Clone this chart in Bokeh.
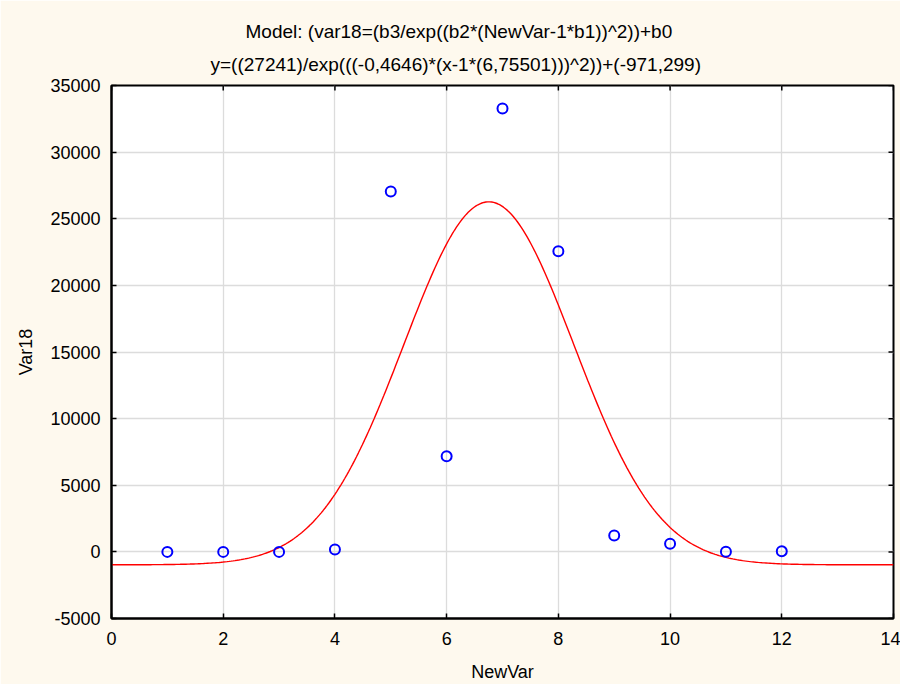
import numpy as np
from bokeh.plotting import figure
from bokeh.models import Title, Range1d, FixedTicker
from bokeh.embed import file_html
from bokeh.resources import INLINE

# Observed data
new_var = [1, 2, 3, 4, 5, 6, 7, 8, 9, 10, 11, 12]
var18 = [0, 0, 0, 180, 27050, 7170, 33280, 22560, 1230, 610, 10, 50]

# Fitted model parameters (from the title)
b3 = 27241.0
b2 = -0.4646
b1 = 6.75501
b0 = -971.299

title1 = "Model: (var18=(b3/exp((b2*(NewVar-1*b1))^2))+b0"
title2 = "y=((27241)/exp(((-0,4646)*(x-1*(6,75501)))^2))+(-971,299)"

x_ticks = [0, 2, 4, 6, 8, 10, 12, 14]
y_ticks = [-5000, 0, 5000, 10000, 15000, 20000, 25000, 30000, 35000]
x_min, x_max = 0, 14
y_min, y_max = -5000, 35000

FONT = "Liberation Sans"
BG = "#FEF9EE"

p = figure(width=900, height=684, output_backend="svg", toolbar_location=None,
           x_range=Range1d(x_min, x_max), y_range=Range1d(y_min, y_max),
           background_fill_color="white", border_fill_color=BG,
           min_border_left=111, min_border_right=7, min_border_top=85, min_border_bottom=66,
           title=None)

p.outline_line_color = "black"
p.outline_line_width = 2

for ax in (p.xaxis[0], p.yaxis[0]):
    ax.major_label_text_font = FONT
    ax.major_label_text_font_size = "18px"
    ax.major_label_text_color = "black"
    ax.axis_label_text_font = FONT
    ax.axis_label_text_font_size = "18px"
    ax.axis_label_text_font_style = "normal"
    ax.axis_label_text_color = "black"
    ax.major_tick_in = 5
    ax.major_tick_out = 0
    ax.minor_tick_in = 0
    ax.minor_tick_out = 0
    ax.axis_line_width = 2
    ax.major_tick_line_width = 1.5

p.xaxis.ticker = FixedTicker(ticks=x_ticks)
p.yaxis.ticker = FixedTicker(ticks=y_ticks)
p.yaxis.major_label_overrides = {t: str(t) for t in y_ticks}
p.xaxis.axis_label = "NewVar"
p.yaxis.axis_label = "Var18"
p.xaxis.major_label_standoff = 13
p.xaxis.axis_label_standoff = 14
p.yaxis.major_label_standoff = 11
p.yaxis.axis_label_standoff = 11

p.xgrid.ticker = FixedTicker(ticks=x_ticks)
p.ygrid.ticker = FixedTicker(ticks=y_ticks)
p.grid.grid_line_color = "#dcdcdc"
p.grid.grid_line_width = 1.3

# inward tick marks on the top and right borders
p.scatter(x_ticks, [y_max] * len(x_ticks), marker="dash", size=10, angle=np.pi / 2,
          line_color="black", line_width=1.5)
p.scatter([x_max] * len(y_ticks), y_ticks, marker="dash", size=10,
          line_color="black", line_width=1.5)

t2 = Title(text=title2, align="left", text_font=FONT, text_font_size="19px",
           text_font_style="normal", text_color="black", standoff=21, offset=99,
           text_line_height=0.8)
t1 = Title(text=title1, align="left", text_font=FONT, text_font_size="19px",
           text_font_style="normal", text_color="black", standoff=0, offset=134,
           text_line_height=0.8)
p.add_layout(t2, "above")
p.add_layout(t1, "above")

# fitted curve
xc = np.linspace(x_min, x_max, 400)
yc = b3 / np.exp((b2 * (xc - 1 * b1)) ** 2) + b0
p.line(xc, yc, line_color="red", line_width=1.4)

p.scatter(new_var, var18, marker="circle", size=10, fill_color=None,
          line_color="blue", line_width=2)

open("out.html", "w").write(file_html(p, INLINE))
